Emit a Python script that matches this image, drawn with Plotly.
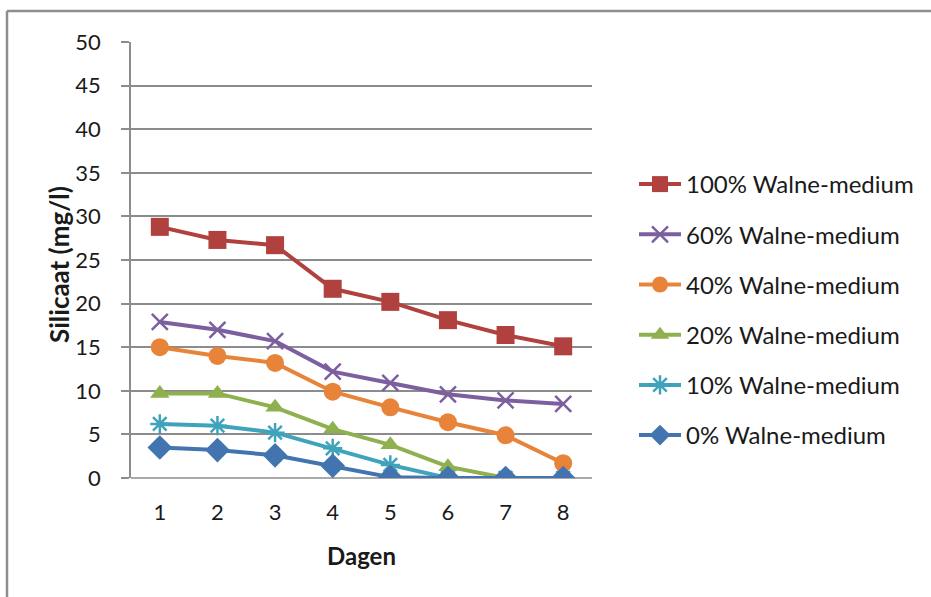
import plotly.graph_objects as go

# Days of measurement
days = [1, 2, 3, 4, 5, 6, 7, 8]

# Silicate concentration (mg/l) per medium strength
walne_100 = [28.8, 27.3, 26.7, 21.7, 20.2, 18.1, 16.4, 15.1]
walne_60 = [17.9, 17.0, 15.7, 12.2, 10.9, 9.6, 8.9, 8.5]
walne_40 = [15.0, 14.0, 13.2, 9.9, 8.1, 6.4, 4.9, 1.7]
walne_20 = [9.7, 9.7, 8.1, 5.6, 3.8, 1.3, 0.0, 0.0]
walne_10 = [6.2, 6.0, 5.2, 3.4, 1.5, 0.0, 0.0, 0.0]
walne_0 = [3.5, 3.2, 2.6, 1.4, 0.1, 0.0, 0.0, 0.0]

y_ticks = [0, 5, 10, 15, 20, 25, 30, 35, 40, 45, 50]

series = [
    ("100% Walne-medium", walne_100, "#B0413E", "square", 18, 0),
    ("60% Walne-medium", walne_60, "#7D5FA0", "x-thin", 16, 2.5),
    ("40% Walne-medium", walne_40, "#E8833A", "circle", 18, 0),
    ("20% Walne-medium", walne_20, "#8EB04E", "triangle-up", 17, 0),
    ("10% Walne-medium", walne_10, "#3FA3BC", "asterisk", 16, 2.5),
    ("0% Walne-medium", walne_0, "#4275B0", "diamond", 19, 0),
]

FONT = "Lato"
GRID = "#8C8C8C"

fig = go.Figure()
for i, (name, vals, color, symbol, size, lw) in enumerate(series):
    marker = dict(symbol=symbol, size=size, color=color)
    if lw:
        marker["line"] = dict(width=lw, color=color)
    else:
        marker["line"] = dict(width=0)
    fig.add_trace(go.Scatter(
        x=days, y=vals, name=name, mode="lines+markers",
        line=dict(color=color, width=4),
        marker=marker,
        legendgroup=f"g{i}",
    ))

L, T, W, H = 131, 42, 461, 436
FIG_W, FIG_H = 931, 597

def px_x(x):
    return (x - L) / W

def px_y(y):
    return 1 - (y - T) / H

fig.update_layout(
    width=FIG_W, height=FIG_H,
    margin=dict(l=L, r=FIG_W - L - W, t=T, b=FIG_H - T - H, pad=0),
    paper_bgcolor="white", plot_bgcolor="white",
    font=dict(family=FONT, size=22, color="#1a1a1a"),
    showlegend=True,
    legend=dict(
        x=px_x(634), y=px_y(162), xanchor="left", yanchor="top",
        font=dict(family=FONT, size=24, color="#1a1a1a"),
        tracegroupgap=16, traceorder="grouped",
        itemwidth=42,
        bgcolor="rgba(0,0,0,0)",
    ),
    xaxis=dict(
        type="category", range=[-0.5, 7.5],
        showgrid=False, showline=False, zeroline=False,
        ticks="", tickfont=dict(family=FONT, size=22),
        ticklabelstandoff=19,
        title=dict(text="<b>Dagen</b>", font=dict(family=FONT, size=24), standoff=24),
    ),
    yaxis=dict(
        range=[0, 50], tickvals=y_ticks,
        showgrid=True, gridcolor=GRID, gridwidth=1.5,
        showline=True, linecolor=GRID, linewidth=1.5,
        zeroline=False,
        ticks="outside", ticklen=8, tickcolor=GRID, tickwidth=1.5,
        ticklabelstandoff=16,
        tickfont=dict(family=FONT, size=22),
    ),
)

# y axis title, placed beside the tick labels
fig.add_annotation(
    text="<b>Silicaat (mg/l)</b>", textangle=-90,
    xref="paper", yref="paper", x=px_x(59), y=px_y(265),
    xanchor="center", yanchor="middle", showarrow=False,
    font=dict(family=FONT, size=26, color="#1a1a1a"),
)

# x axis baseline along the bottom of the plot area
fig.add_shape(type="line", xref="paper", yref="paper", x0=0, x1=1, y0=0, y1=0,
              line=dict(color=GRID, width=1.5), layer="below")

# chart area frame (top and left edges)
fig.add_shape(type="line", xref="paper", yref="paper",
              x0=px_x(7), x1=px_x(FIG_W), y0=px_y(11), y1=px_y(11),
              line=dict(color="#8E8E8E", width=2.5))
fig.add_shape(type="line", xref="paper", yref="paper",
              x0=px_x(7), x1=px_x(7), y0=px_y(11), y1=px_y(FIG_H),
              line=dict(color="#8E8E8E", width=2.5))

fig.write_html("out.html", config={"displayModeBar": False})
